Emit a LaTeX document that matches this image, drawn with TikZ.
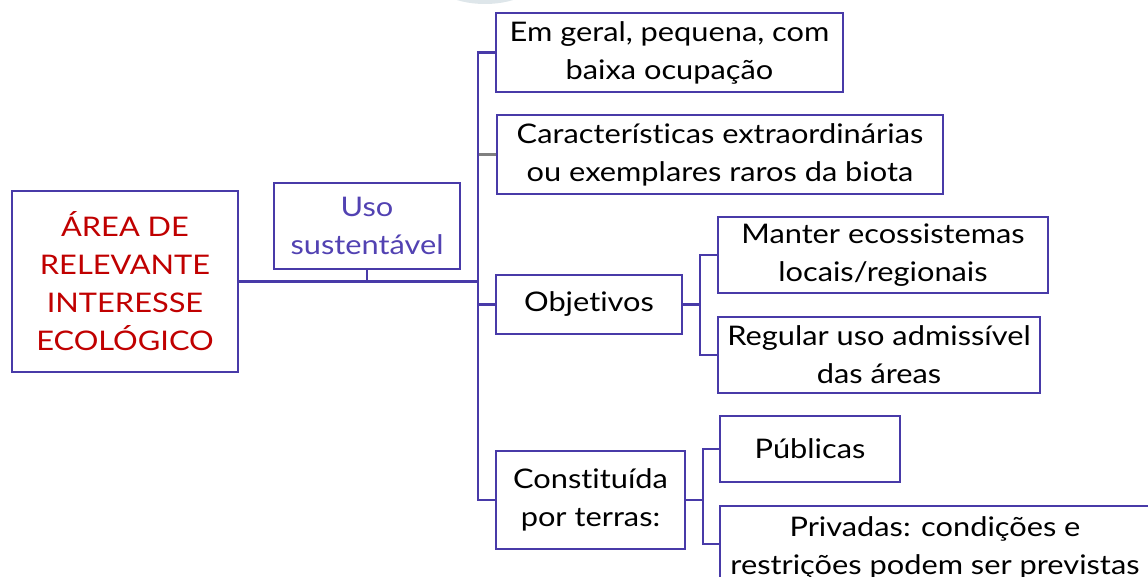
\documentclass[tikz,border=0pt]{standalone}
\usepackage{fontspec}
\setmainfont{Lato}[FakeStretch=1.14, Ligatures=CommonOff]
\usepackage{tikz}
\usetikzlibrary{calc}

\definecolor{boxline}{RGB}{72,58,168}
\definecolor{titlered}{RGB}{192,0,0}
\definecolor{usotext}{RGB}{82,66,178}
\definecolor{arcgray}{RGB}{222,230,234}

\begin{document}
\begin{tikzpicture}[x=1pt, y=-1pt,
		box/.style={draw=boxline, line width=2.8pt, align=center, inner sep=0pt, font=\fontsize{27}{38}\selectfont},
		link/.style={draw=boxline, line width=2.8pt}]
		\useasboundingbox (0,0) rectangle (1148,577);
		\fill [arcgray] (485,-30) ellipse (60 and 34);
		
		\node [box, text=titlered, minimum width=226pt, minimum height=181pt] (area) at (125,281.5) {ÁREA DE\\RELEVANTE\\INTERESSE\\ECOLÓGICO};
		\node [box, text=usotext, minimum width=186pt, minimum height=86pt] (uso) at (367,226) {Uso\\sustentável};
		
		\node [box, minimum width=347pt, minimum height=79pt] (geral) at (669.5,52.5) {Em geral, pequena, com\\baixa ocupação};
		\node [box, minimum width=446pt, minimum height=79pt] (carac) at (720,154.5) {Características extraordinárias\\ou exemplares raros da biota};
		\node [box, minimum width=186pt, minimum height=59pt] (obj) at (589,304.5) {Objetivos};
		\node [box, minimum width=189pt, minimum height=98pt] (const) at (590.5,500) {Constituída\\por terras:};
		
		\node [box, minimum width=330pt, minimum height=76pt] (manter) at (883,255) {Manter ecossistemas\\locais/regionais};
		\node [box, minimum width=322pt, minimum height=76pt] (regular) at (879,355) {Regular uso admissível\\das áreas};
		\node [box, minimum width=180pt, minimum height=66pt] (publicas) at (810,449) {Públicas};
		\node [box, minimum width=430pt, minimum height=84pt] (privadas) at (935,548) {Privadas: condições e\\restrições podem ser previstas};
		
		\coordinate (trunk) at (478,0);
		\coordinate (objbar) at (700,0);
		\coordinate (constbar) at (703,0);
		\coordinate (privlink) at (720,544);
		
		\draw [link, draw=gray] (carac.west) -- (carac.west -| trunk);
		\draw [link] (area.east) -- (area.east -| trunk);
		\draw [link] (uso.south) -- (uso.south |- area.east);
		\draw [link] (geral.west) -- (geral.west -| trunk) -- (const.west -| trunk) -- (const.west);
		\draw [link] (obj.west) -- (obj.west -| trunk);
		
		\draw [link] (obj.east) -- (obj.east -| objbar);
		\draw [link] (manter.west) -- (manter.west -| objbar) -- (regular.west -| objbar) -- (regular.west);
		\draw [link] (const.east) -- (const.east -| constbar);
		\draw [link] (publicas.west) -- (publicas.west -| constbar) -- (privlink -| constbar) -- (privlink);
\end{tikzpicture}
\end{document}
